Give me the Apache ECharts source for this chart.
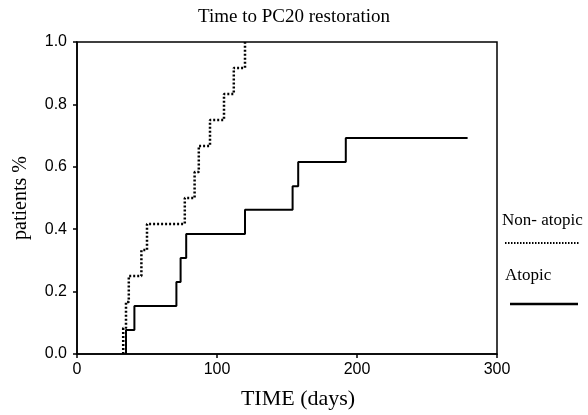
<!DOCTYPE html>
<html><head><meta charset="utf-8">
<script src="https://cdn.jsdelivr.net/npm/echarts@6/dist/echarts.min.js"></script>
<style>html,body{margin:0;padding:0;background:#fff}#c{width:588px;height:415px}</style>
</head><body><div id="c"></div>
<script>
var title = 'Time to PC20 restoration';
var xName = 'TIME (days)';
var yName = 'patients %';
var seriesNames = ['Non- atopic', 'Atopic'];
// Non-atopic step events (days) and cumulative fraction after each event
var nonAtopicDays = [33, 33, 35, 37, 46, 50, 77, 84, 87, 95, 105, 112, 120];
var nonAtopicVals = [0, 0.083, 0.167, 0.25, 0.333, 0.417, 0.5, 0.583, 0.667, 0.75, 0.833, 0.917, 1.0];
// Atopic step events (days), last point = end of follow-up
var atopicDays = [35, 35, 41, 71, 74, 78, 120, 154, 158, 192, 279];
var atopicVals = [0, 0.077, 0.154, 0.231, 0.308, 0.385, 0.462, 0.538, 0.615, 0.692, 0.692];
var xTicks = [0, 100, 200, 300];
var yTicks = [0, 0.2, 0.4, 0.6, 0.8, 1.0];

function zip(a, b) { return a.map(function (v, i) { return [v, b[i]]; }); }

var chart = echarts.init(document.getElementById('c'), null, {renderer: 'canvas'});
var serif = '"Liberation Serif", "Times New Roman", serif';
var sans = '"Liberation Sans", Arial, sans-serif';
chart.setOption({
  animation: false,
  backgroundColor: '#fff',
  title: {text: title, left: 'center', top: 3,
    textStyle: {fontFamily: serif, fontWeight: 'normal', fontSize: 19, color: '#000'}},
  grid: {left: 77, right: 91, top: 42, bottom: 60, show: true, borderColor: '#000', borderWidth: 1.5, backgroundColor: 'transparent'},
  xAxis: {type: 'value', min: xTicks[0], max: xTicks[xTicks.length - 1], interval: 100,
    name: xName, nameLocation: 'middle', nameGap: 34,
    nameTextStyle: {fontFamily: serif, fontSize: 22, color: '#000', padding: [0, 0, 0, 22]},
    axisLine: {lineStyle: {color: '#000', width: 1.5}},
    axisTick: {show: true, length: 4, lineStyle: {color: '#000', width: 1.5}},
    axisLabel: {fontFamily: sans, fontSize: 16, color: '#000', margin: 8},
    splitLine: {show: false}},
  yAxis: {type: 'value', min: yTicks[0], max: yTicks[yTicks.length - 1], interval: 0.2,
    name: yName, nameLocation: 'middle', nameGap: 46,
    nameTextStyle: {fontFamily: serif, fontSize: 20, color: '#000'},
    axisLine: {lineStyle: {color: '#000', width: 1.5}},
    axisTick: {show: true, length: 4, lineStyle: {color: '#000', width: 1.5}},
    axisLabel: {fontFamily: sans, fontSize: 16, color: '#000', margin: 10,
      formatter: function (v) { return v.toFixed(1); }},
    splitLine: {show: false}},
  series: [
    {name: seriesNames[0], type: 'line', step: 'end', showSymbol: false, symbol: 'none',
      data: zip(nonAtopicDays, nonAtopicVals),
      lineStyle: {color: '#000', width: 2.5, type: [2, 2]}},
    {name: seriesNames[1], type: 'line', step: 'end', showSymbol: false, symbol: 'none',
      data: zip(atopicDays, atopicVals),
      lineStyle: {color: '#000', width: 2}}
  ],
  graphic: [
    {type: 'text', left: 502, top: 212, style: {text: seriesNames[0], font: '17px ' + serif, fill: '#000'}},
    {type: 'line', shape: {x1: 505, y1: 243, x2: 580, y2: 243}, style: {stroke: '#000', lineWidth: 2, lineDash: [1.5, 1.5]}},
    {type: 'text', left: 505, top: 267, style: {text: seriesNames[1], font: '17px ' + serif, fill: '#000'}},
    {type: 'line', shape: {x1: 510, y1: 304, x2: 578, y2: 304}, style: {stroke: '#000', lineWidth: 2.5}}
  ]
});
</script></body></html>
